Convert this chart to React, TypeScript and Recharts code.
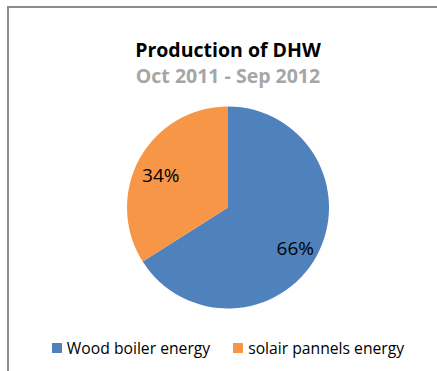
import { Legend, Pie, PieChart } from 'recharts'

const SOURCES = ['Wood boiler energy', 'solair pannels energy']
const SHARES = [66, 34]
const COLORS = ['#4f81bd', '#f79646']
const TITLE = 'Production of DHW'
const SUBTITLE = 'Oct 2011 - Sep 2012'

const FONT = '"Open Sans", "Noto Sans", sans-serif'
const RADIAN = Math.PI / 180

const data = SOURCES.map((name, idx) => ({ name, value: SHARES[idx], fill: COLORS[idx] }))

function renderLabel(props: any) {
  const { cx, cy, midAngle, outerRadius, percent } = props
  const r = outerRadius * 0.76
  const x = cx + r * Math.cos(-midAngle * RADIAN)
  const y = cy + r * Math.sin(-midAngle * RADIAN) + 4
  return (
    <text
      x={x}
      y={y}
      fill="#000"
      textAnchor="middle"
      dominantBaseline="central"
      fontFamily={FONT}
      fontSize={19}
    >
      {`${Math.round(percent * 100)}%`}
    </text>
  )
}

function LegendContent({ payload }: any) {
  return (
    <div style={{ display: 'flex', justifyContent: 'center', fontFamily: FONT, fontSize: 15.7, color: '#000' }}>
      {(payload ?? []).map((entry: any, idx: number) => (
        <div key={entry.value} style={{ display: 'flex', alignItems: 'center', marginLeft: idx ? 23 : 0 }}>
          <span style={{ width: 10, height: 10, background: entry.color, marginRight: 5, display: 'inline-block' }} />
          <span>{entry.value}</span>
        </div>
      ))}
    </div>
  )
}

export default function App() {
  return (
    <div style={{ position: 'absolute', left: 0, top: 0, width: 437, height: 371, overflow: 'hidden', background: '#fff' }}>
      <div
        style={{
          position: 'absolute',
          left: 7,
          top: 6,
          width: 460,
          height: 400,
          borderTop: '2px solid #8c8c8c',
          borderLeft: '2px solid #8c8c8c',
          boxSizing: 'border-box',
        }}
      />
      <svg width={456} height={100} style={{ position: 'absolute', left: 0, top: 0 }}>
        <text x={228} y={57} textAnchor="middle" fontFamily={FONT} fontWeight="bold" fontSize={19.5} fill="#000">
          {TITLE}
        </text>
        <text x={228} y={83} textAnchor="middle" fontFamily={FONT} fontWeight="bold" fontSize={19.5} fill="#a6a6a6">
          {SUBTITLE}
        </text>
      </svg>
      <div style={{ position: 'absolute', left: 0, top: 0 }}>
        <PieChart width={456} height={371} margin={{ top: 0, right: 0, bottom: 0, left: 0 }}>
          <Pie
            data={data}
            dataKey="value"
            nameKey="name"
            cx={228}
            cy={207.5}
            outerRadius={101}
            startAngle={90}
            endAngle={-270}
            stroke="none"
            label={renderLabel}
            labelLine={false}
            isAnimationActive={false}
          />
          <Legend
            content={<LegendContent />}
            verticalAlign="bottom"
            wrapperStyle={{ top: 337, bottom: 'auto', left: 0, width: 456 }}
          />
        </PieChart>
      </div>
    </div>
  )
}
